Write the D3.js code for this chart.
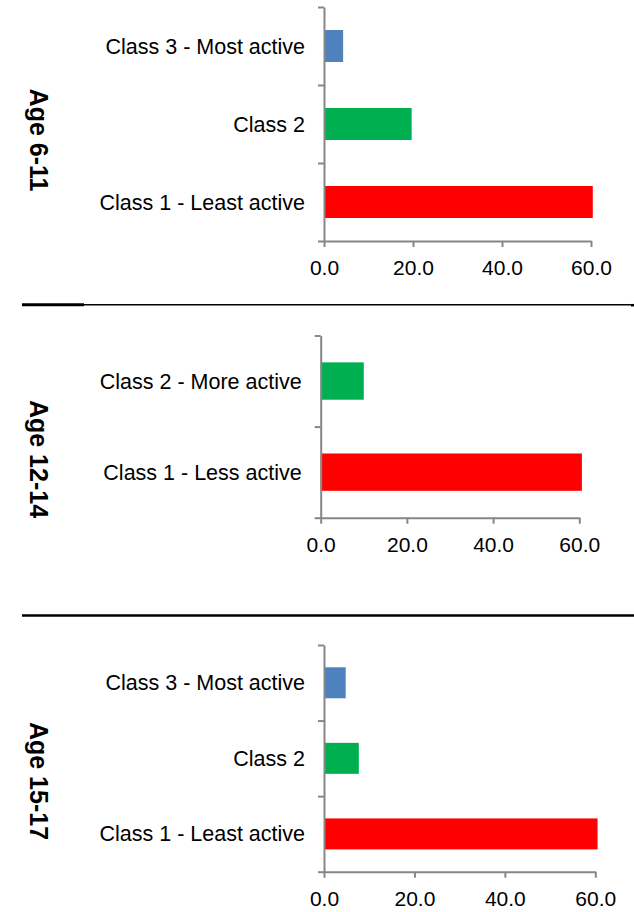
<!DOCTYPE html>
<html>
<head>
<meta charset="utf-8">
<script src="https://cdn.jsdelivr.net/npm/d3@7"></script>
<style>
  html, body { margin: 0; padding: 0; background: #ffffff; }
  svg { display: block; }
</style>
</head>
<body>
<div id="chart"></div>
<script>
// ---------- data ----------
const groupLabels = ["Age 6-11", "Age 12-14", "Age 15-17"];

const categories611 = ["Class 3 - Most active", "Class 2", "Class 1 - Least active"];
const values611 = [4.3, 19.7, 60.4];

const categories1214 = ["Class 2 - More active", "Class 1 - Less active"];
const values1214 = [10.0, 60.6];

const categories1517 = ["Class 3 - Most active", "Class 2", "Class 1 - Least active"];
const values1517 = [4.8, 7.7, 60.5];

const xTickValues = [0, 20, 40, 60];

// ---------- styles / layout ----------
const colors611 = ["#4F81BD", "#00B050", "#FF0000"];
const colors1214 = ["#00B050", "#FF0000"];
const colors1517 = ["#4F81BD", "#00B050", "#FF0000"];

const W = 634, H = 912;
const FONT = "'Liberation Sans', Arial, sans-serif";
const AXIS = "#868686";

const panels = [
  { label: groupLabels[0], cats: categories611, vals: values611, cols: colors611,
    x0: 324, x1: 591, yTop: 7, yBot: 241, ageY: 140 },
  { label: groupLabels[1], cats: categories1214, vals: values1214, cols: colors1214,
    x0: 320.7, x1: 579.3, yTop: 335.5, yBot: 517.7, ageY: 459 },
  { label: groupLabels[2], cats: categories1517, vals: values1517, cols: colors1517,
    x0: 324, x1: 595.3, yTop: 645, yBot: 871.7, ageY: 781 }
];

const svg = d3.select("#chart").append("svg")
  .attr("width", W).attr("height", H)
  .attr("viewBox", `0 0 ${W} ${H}`);

panels.forEach(p => {
  const g = svg.append("g");
  const x = d3.scaleLinear().domain([0, 60]).range([p.x0, p.x1]);
  const y = d3.scaleBand().domain(p.cats).range([p.yTop, p.yBot]).padding(0);
  const barH = y.bandwidth() * 0.41;

  // bars
  g.selectAll("rect.bar").data(p.cats).enter().append("rect")
    .attr("class", "bar")
    .attr("x", x(0))
    .attr("y", d => y(d) + (y.bandwidth() - barH) / 2)
    .attr("width", (d, i) => x(p.vals[i]) - x(0))
    .attr("height", barH)
    .attr("fill", (d, i) => p.cols[i]);

  // y axis (ticks at band boundaries)
  const yb = d3.scaleLinear().domain([0, p.cats.length]).range([p.yTop, p.yBot]);
  const yAxis = d3.axisLeft(yb)
    .tickValues(d3.range(p.cats.length + 1))
    .tickFormat("")
    .tickSize(6)
    .tickSizeOuter(0);
  const ya = g.append("g").attr("transform", `translate(${x(0)},0)`).call(yAxis);
  ya.select(".domain").attr("stroke", AXIS).attr("stroke-width", 2);
  ya.selectAll(".tick line").attr("stroke", AXIS).attr("stroke-width", 2);

  // category labels
  g.selectAll("text.cat").data(p.cats).enter().append("text")
    .attr("class", "cat")
    .attr("x", x(0) - 19)
    .attr("y", d => y(d) + y.bandwidth() / 2)
    .attr("dy", "0.35em")
    .attr("text-anchor", "end")
    .attr("font-family", FONT)
    .attr("font-size", 21.5)
    .attr("fill", "#000")
    .text(d => d);

  // x axis
  const xAxis = d3.axisBottom(x)
    .tickValues(xTickValues)
    .tickFormat(d3.format(".1f"))
    .tickSize(6)
    .tickSizeOuter(0)
    .tickPadding(13);
  const xa = g.append("g").attr("transform", `translate(0,${p.yBot})`).call(xAxis);
  xa.select(".domain").attr("stroke", AXIS).attr("stroke-width", 2);
  xa.selectAll(".tick line").attr("stroke", AXIS).attr("stroke-width", 2);
  xa.selectAll(".tick text")
    .attr("font-family", FONT)
    .attr("font-size", 21)
    .attr("fill", "#000");

  // age label (rotated)
  g.append("text")
    .attr("transform", `translate(39,${p.ageY}) rotate(90)`)
    .attr("dy", "0.35em")
    .attr("text-anchor", "middle")
    .attr("font-family", FONT)
    .attr("font-weight", "bold")
    .attr("font-size", 25)
    .attr("fill", "#000")
    .text(p.label);
});

// separator lines
const seps = svg.append("g");
seps.append("line").attr("x1", 22).attr("x2", 84).attr("y1", 304.7).attr("y2", 304.7)
  .attr("stroke", "#000").attr("stroke-width", 3);
seps.append("line").attr("x1", 84).attr("x2", 631).attr("y1", 304.7).attr("y2", 304.7)
  .attr("stroke", "#000").attr("stroke-width", 1.5);
seps.append("line").attr("x1", 631).attr("x2", 634).attr("y1", 305.2).attr("y2", 305.2)
  .attr("stroke", "#000").attr("stroke-width", 2.5);
seps.append("line").attr("x1", 22).attr("x2", 634).attr("y1", 615.5).attr("y2", 615.5)
  .attr("stroke", "#000").attr("stroke-width", 2.5);
</script>
</body>
</html>
